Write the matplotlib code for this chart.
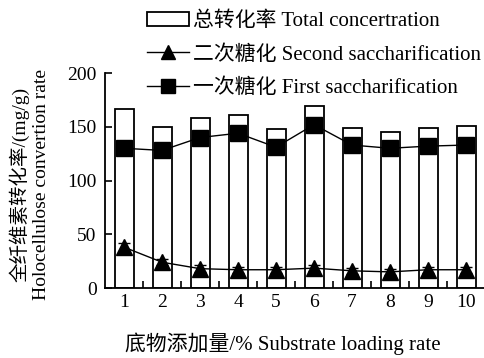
import numpy as np
import matplotlib.pyplot as plt
from matplotlib.patches import Patch
from matplotlib.lines import Line2D
from matplotlib.ticker import MultipleLocator, FixedLocator

plt.rcParams['font.family'] = ['Liberation Serif', 'Noto Sans CJK SC']
plt.rcParams['font.size'] = 14

loading = [1, 2, 3, 4, 5, 6, 7, 8, 9, 10]
total = [167, 150, 158, 161, 148, 169, 149, 145, 149, 151]
first = [130, 128, 140, 144, 131, 152, 133, 130, 132, 133]
second = [38, 24, 18, 17, 17, 18.5, 16, 15, 17, 17]
second_err = [4, 3, 3, 3, 3, 3, 3, 3, 3, 3]

fig = plt.figure(figsize=(4.85, 3.58), dpi=100)
ax = fig.add_axes([0.2165, 0.1955, 0.7835, 0.6005])

x = np.array(loading)
ax.bar(x, total, width=0.5, color='white', edgecolor='black', linewidth=1.3, zorder=1)
ax.plot(x, first, color='black', linewidth=1.0, marker='s', markersize=12, zorder=3)
ax.errorbar(x, second, yerr=second_err, color='black', linewidth=1.0, marker='^',
            markersize=11, capsize=4, elinewidth=1.0, zorder=3)

ax.set_xlim(0.5, 10.5)
ax.set_ylim(0, 200)
ax.set_xticks(loading)
ax.xaxis.set_minor_locator(FixedLocator(np.arange(1.5, 10.6, 1)))
ax.yaxis.set_major_locator(MultipleLocator(50))
ax.tick_params(axis='x', which='major', length=0, pad=4)
ax.tick_params(axis='x', which='minor', direction='in', length=5, width=1.2)
ax.tick_params(axis='y', direction='in', length=5, width=1.2, pad=6)

for side in ['top', 'right']:
    ax.spines[side].set_visible(False)
for side in ['left', 'bottom']:
    ax.spines[side].set_linewidth(1.3)

ax.set_xlabel('底物添加量/% Substrate loading rate', fontsize=15)
ax.xaxis.set_label_coords(0.469, -0.205)
ax.set_ylabel('全纤维素转化率/(mg/g)\nHolocellulose convertion rate', fontsize=14,
              linespacing=1.25)
ax.yaxis.set_label_coords(-0.145, 0.48)

handles = [
    Patch(facecolor='white', edgecolor='black', linewidth=1.3),
    Line2D([], [], color='black', linewidth=1.0, marker='^', markersize=10),
    Line2D([], [], color='black', linewidth=1.0, marker='s', markersize=10),
]
labels = ['总转化率 Total concertration',
          '二次糖化 Second saccharification',
          '一次糖化 First saccharification']
fig.legend(handles, labels, loc='upper left', bbox_to_anchor=(0.295, 0.979),
           frameon=False, fontsize=15, handlelength=2.0, handletextpad=0.2,
           labelspacing=0.66, borderpad=0.2, borderaxespad=0)

fig.savefig('out.png', dpi=100)
